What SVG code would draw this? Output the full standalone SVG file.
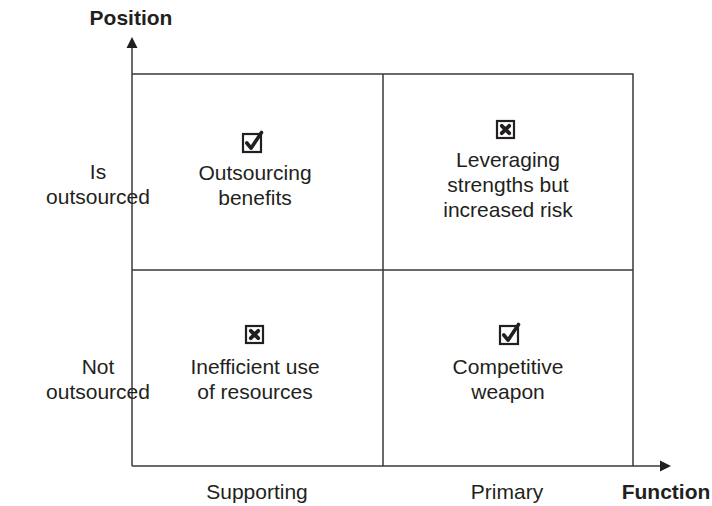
<svg xmlns="http://www.w3.org/2000/svg" width="712" height="506" viewBox="0 0 712 506">
<style>
text{font-family:"Liberation Sans",Arial,sans-serif;font-size:21px;fill:#231f20;text-anchor:middle}
.b{font-weight:bold}
.grid{fill:none;stroke:#3a3a3a;stroke-width:1.5}
.box{fill:#fff;stroke:#231f20;stroke-width:2.2}
.chk{fill:none;stroke:#231f20;stroke-width:3.6;stroke-linecap:round;stroke-linejoin:round}
.x{fill:none;stroke:#231f20;stroke-width:3.8;stroke-linecap:round}
</style>
<defs>
<g id="check">
<rect class="box" x="0" y="0" width="18" height="18"/>
<path class="chk" d="M3.8 9 L8 14.2 L18.5 -1.5"/>
</g>
<g id="cross">
<rect class="box" x="0" y="0" width="17" height="17"/>
<path class="x" d="M4.8 4.8 L12.2 12.2 M12.2 4.8 L4.8 12.2"/>
</g>
</defs>
<g id="connectors">
<path class="grid" d="M132 466 V46"/>
<polygon points="132,37 126.5,48 137.5,48" fill="#231f20"/>
<path class="grid" d="M132 466 H661"/>
<polygon points="671,466 660,460.5 660,471.5" fill="#231f20"/>
<path class="grid" d="M132 74 H633 V466 M383 74 V466 M132 270 H633"/>
</g>
<g id="axis-y"><text class="b" x="131" y="25">Position</text></g>
<g id="axis-x"><text class="b" x="666" y="499">Function</text></g>
<g id="row-top"><text x="98" y="179">Is</text><text x="98" y="204">outsourced</text></g>
<g id="row-bottom"><text x="98" y="374">Not</text><text x="98" y="399">outsourced</text></g>
<g id="col-left"><text x="257" y="499">Supporting</text></g>
<g id="col-right"><text x="507" y="499">Primary</text></g>
<g id="q-tl">
<use href="#check" x="243" y="134"/>
<text x="255" y="180">Outsourcing</text><text x="255" y="205">benefits</text>
</g>
<g id="q-tr">
<use href="#cross" x="497" y="121"/>
<text x="508" y="167">Leveraging</text><text x="508" y="192">strengths but</text><text x="508" y="217">increased risk</text>
</g>
<g id="q-bl">
<use href="#cross" x="246" y="326"/>
<text x="255" y="374">Inefficient use</text><text x="255" y="399">of resources</text>
</g>
<g id="q-br">
<use href="#check" x="500" y="326"/>
<text x="508" y="374">Competitive</text><text x="508" y="399">weapon</text>
</g>
</svg>
